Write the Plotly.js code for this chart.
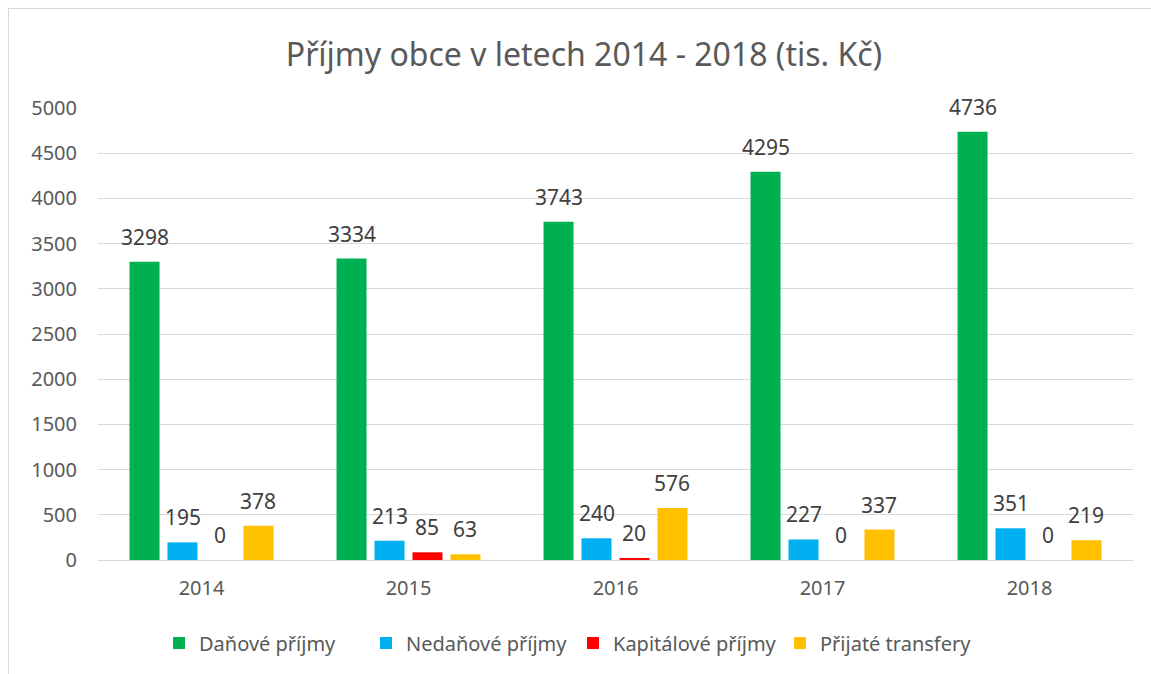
<!DOCTYPE html>
<html>
<head>
<meta charset="utf-8">
<script src="https://cdn.plot.ly/plotly-3.0.1.min.js"></script>
<style>
html, body { margin: 0; padding: 0; overflow: hidden; background: #fff; }
#chart { width: 1151px; height: 674px; }
#frame { position: absolute; left: 8px; top: 8px; width: 1200px; height: 700px; border: 1px solid #d9d9d9; pointer-events: none; }
</style>
</head>
<body>
<div id="chart"></div>
<div id="frame"></div>
<script>
const years = ['2014', '2015', '2016', '2017', '2018'];
const seriesNames = ['Daňové příjmy', 'Nedaňové příjmy', 'Kapitálové příjmy', 'Přijaté transfery'];
const danove = [3298, 3334, 3743, 4295, 4736];
const nedanove = [195, 213, 240, 227, 351];
const kapitalove = [0, 85, 20, 0, 0];
const transfery = [378, 63, 576, 337, 219];
const colors = ['#00b050', '#00b0f0', '#ff0000', '#ffc000'];
const titleText = 'Příjmy obce v letech 2014 - 2018 (tis. Kč)';

const allSeries = [danove, nedanove, kapitalove, transfery];
const bargap = 0.266;
const bargroupgap = 0.21;
const font = 'Noto Sans, Open Sans, sans-serif';

const traces = allSeries.map((vals, i) => ({
  type: 'bar',
  name: seriesNames[i],
  x: years,
  y: vals,
  marker: { color: colors[i] },
  hoverinfo: 'y+name'
}));

const slot = (1 - bargap) / allSeries.length;
const annotations = [];
allSeries.forEach((vals, i) => {
  const off = (i - (allSeries.length - 1) / 2) * slot;
  vals.forEach((v, j) => {
    annotations.push({
      x: j + off, y: v, xref: 'x', yref: 'y',
      text: String(v), showarrow: false,
      yanchor: 'bottom', yshift: 9,
      font: { family: font, size: 21, color: '#404040' }
    });
  });
});

const layout = {
  width: 1151, height: 674,
  margin: { l: 98, r: 18, t: 108, b: 114 },
  paper_bgcolor: '#ffffff',
  plot_bgcolor: '#ffffff',
  title: {
    text: titleText,
    x: 584 / 1151, xref: 'container', xanchor: 'center',
    y: 1 - 55 / 674, yref: 'container', yanchor: 'middle',
    font: { family: font, size: 32, color: '#595959' }
  },
  barmode: 'group',
  bargap: bargap,
  bargroupgap: bargroupgap,
  xaxis: {
    type: 'category',
    showgrid: false,
    showline: true, linecolor: '#d9d9d9', linewidth: 1,
    ticks: '',
    ticklabelstandoff: 10,
    tickfont: { family: font, size: 20, color: '#595959' },
    zeroline: false
  },
  yaxis: {
    range: [0, 5000],
    dtick: 500,
    showgrid: true, gridcolor: '#d9d9d9', gridwidth: 1,
    zeroline: false,
    showline: false,
    ticks: '',
    ticklabelstandoff: 20,
    tickfont: { family: font, size: 20, color: '#595959' }
  },
  legend: {
    orientation: 'h',
    entrywidth: 162,
    entrywidthmode: 'pixels',
    xref: 'container',
    x: 159 / 1151, xanchor: 'left',
    y: 1 - 643 / 674, yref: 'container', yanchor: 'middle',
    font: { family: font, size: 20, color: '#595959' },
    itemclick: false
  },
  annotations: annotations,
  showlegend: true
};

Plotly.newPlot('chart', traces, layout, { displayModeBar: false });
</script>
</body>
</html>
